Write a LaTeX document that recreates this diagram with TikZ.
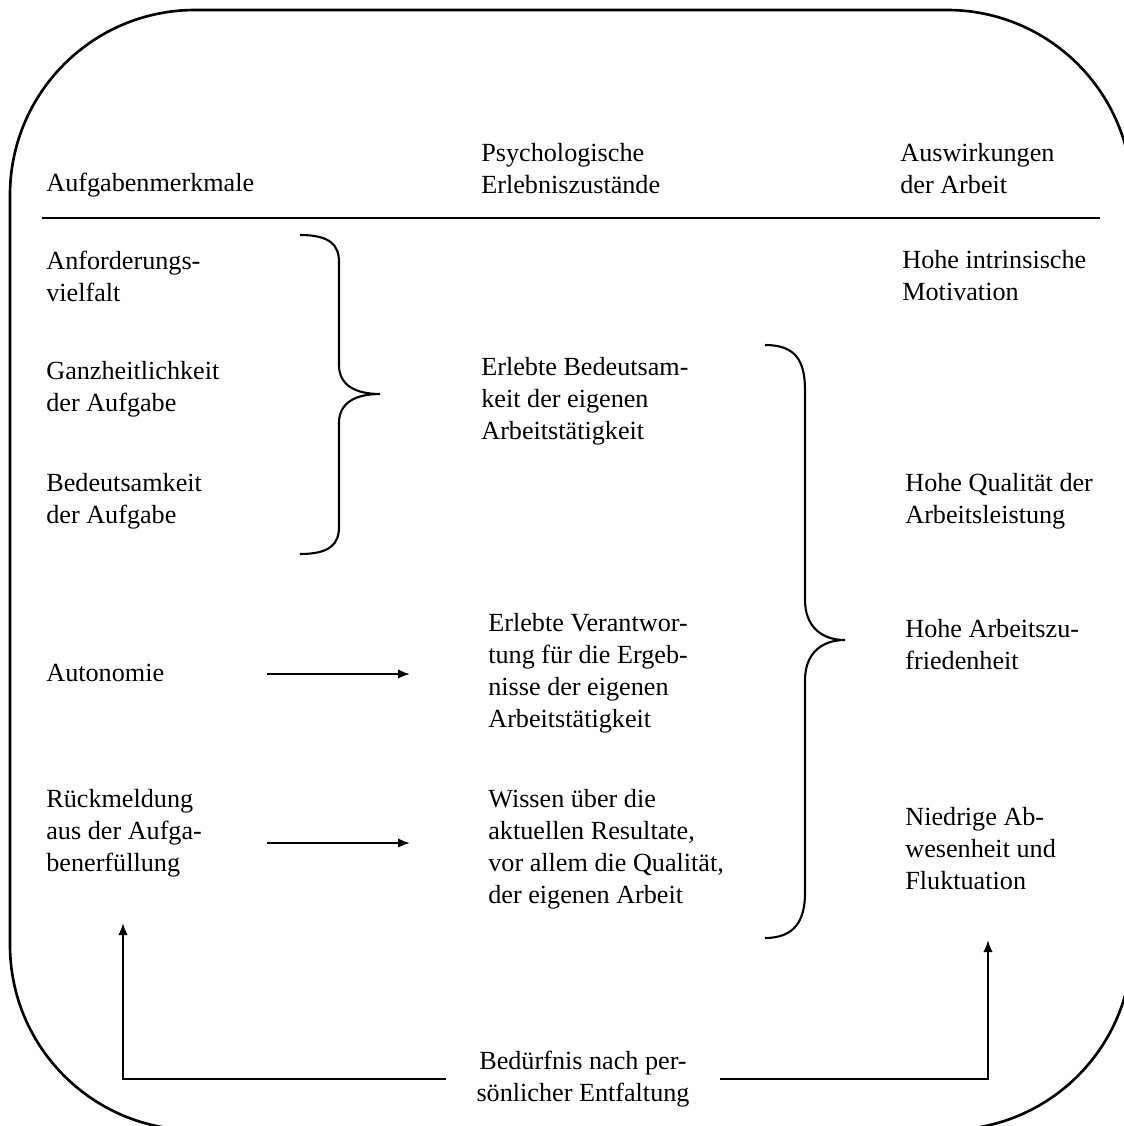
\documentclass[tikz,border=0pt]{standalone}
\usepackage{fontspec}
\setmainfont{Liberation Serif}
\usetikzlibrary{arrows.meta}

\begin{document}
\begin{tikzpicture}[x=0.02cm,y=-0.02cm,
  txt/.style={anchor=west,align=left,inner sep=0,font=\fontsize{14.9pt}{18.2pt}\selectfont},
  arr/.style={line width=1.2pt,-{Latex[length=0.24cm,width=0.19cm]}},
  klammer/.style={line width=1.2pt}]
\useasboundingbox (0,0) rectangle (1123,1126);
\draw[line width=1.5pt,rounded corners=3.7cm] (10,10) rectangle (1132,1130);
\node[txt] (kopf1) at (46,185) {Aufgabenmerkmale};
\node[txt] (kopf2) at (481,169) {Psychologische\\Erlebniszustände};
\node[txt] (kopf3) at (900,169) {Auswirkungen\\der Arbeit};
\draw[line width=1.2pt] (42,218) -- (1100,218);
\node[txt] (merk1) at (46,276) {Anforderungs-\\vielfalt};
\node[txt] (merk2) at (46,389) {Ganzheitlichkeit\\der Aufgabe};
\node[txt] (merk3) at (46,501) {Bedeutsamkeit\\der Aufgabe};
\node[txt] (merk4) at (46,673) {Autonomie};
\node[txt] (merk5) at (46,833) {Rückmeldung\\aus der Aufga-\\benerfüllung};
\node[txt] (zust1) at (481,401) {Erlebte Bedeutsam-\\keit der eigenen\\Arbeitstätigkeit};
\node[txt] (zust2) at (488,673) {Erlebte Verantwor-\\tung für die Ergeb-\\nisse der eigenen\\Arbeitstätigkeit};
\node[txt] (zust3) at (488,849) {Wissen über die\\aktuellen Resultate,\\vor allem die Qualität,\\der eigenen Arbeit};
\node[txt] (wirk1) at (902,276) {Hohe intrinsische\\Motivation};
\node[txt] (wirk2) at (905,501) {Hohe Qualität der\\Arbeitsleistung};
\node[txt] (wirk3) at (905,645) {Hohe Arbeitszu-\\friedenheit};
\node[txt] (wirk4) at (905,849) {Niedrige Ab-\\wesenheit und\\Fluktuation};
\node[txt,anchor=center,align=center,inner xsep=0.6cm] (need) at (583,1079) {Bedürfnis nach per-\\sönlicher Entfaltung};
\draw[klammer] (300,235) .. controls (330,235) and (339,245) .. (339,262) -- (339,365)
  .. controls (339,385) and (355,394) .. (380,394) .. controls (355,394) and (339,403) .. (339,423)
  -- (339,527) .. controls (339,544) and (330,554) .. (300,554);
\draw[klammer] (765,345) .. controls (795,345) and (805,360) .. (805,390) -- (805,600)
  .. controls (805,625) and (820,640) .. (845,640) .. controls (820,640) and (805,655) .. (805,680)
  -- (805,893) .. controls (805,920) and (795,938) .. (765,938);
\coordinate (p1) at (267,674);
\coordinate (q1) at (410,674);
\coordinate (p2) at (267,843);
\coordinate (q2) at (410,843);
\coordinate (fbL) at (123,923);
\coordinate (fbR) at (988,940);
\draw[arr] (p1) -- (q1);
\draw[arr] (p2) -- (q2);
\draw[arr] (need.west) -| (fbL);
\draw[arr] (need.east) -| (fbR);
\end{tikzpicture}
\end{document}
